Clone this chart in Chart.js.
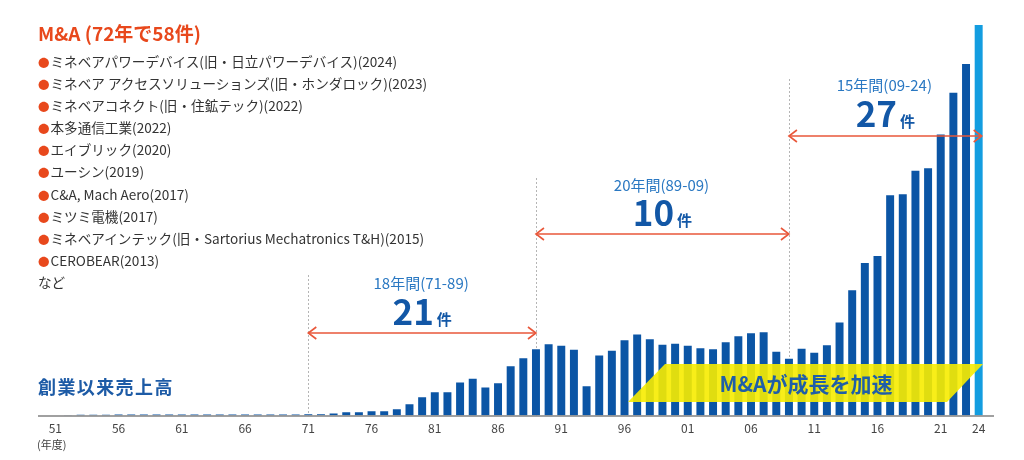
<!DOCTYPE html>
<html lang="ja">
<head>
<meta charset="utf-8">
<script src="https://cdn.jsdelivr.net/npm/chart.js@4.4.1/dist/chart.umd.min.js"></script>
<style>
  body { margin: 0; background: #fff; }
  #wrap { position: relative; width: 1024px; height: 460px; font-family: "Noto Sans CJK JP", "Noto Sans", sans-serif; }
  #sales { position: absolute; left: 0; top: 0; }
  .ma { position: absolute; left: 38px; top: 22px; color: #e8481c; font-weight: bold; font-size: 19px; line-height: 22px; }
  #deals { position: absolute; left: 38px; top: 50px; margin: 0; padding: 0; list-style: none; font-size: 13.6px; color: #333; }
  #deals li { height: 22.1px; line-height: 22px; white-space: nowrap; }
  #deals li.dot::before { content: '\25CF'; color: #e8481c; font-size: 11.5px; margin-right: 1px; }
  .since { position: absolute; left: 38px; top: 373px; color: #1d5ba6; font-weight: bold; font-size: 18px; letter-spacing: 1.4px; line-height: 26px; }
  .unit { position: absolute; left: 37px; top: 436px; color: #444; font-size: 11px; line-height: 16px; }
</style>
</head>
<body>
<div id="wrap">
  <canvas id="sales" width="1024" height="460"></canvas>
  <div class="ma">M&amp;A (72年で58件)</div>
  <ul id="deals"></ul>
  <div class="since">創業以来売上高</div>
  <div class="unit">(年度)</div>
</div>
<script>
// fiscal years
const years = ['1951','1952','1953','1954','1955','1956','1957','1958','1959','1960',
  '1961','1962','1963','1964','1965','1966','1967','1968','1969','1970',
  '1971','1972','1973','1974','1975','1976','1977','1978','1979','1980',
  '1981','1982','1983','1984','1985','1986','1987','1988','1989','1990',
  '1991','1992','1993','1994','1995','1996','1997','1998','1999','2000',
  '2001','2002','2003','2004','2005','2006','2007','2008','2009','2010',
  '2011','2012','2013','2014','2015','2016','2017','2018','2019','2020',
  '2021','2022','2023','2024']

// net sales (approx., 100M yen)
const sales = [5, 10, 35, 36, 37, 38, 38, 39, 40, 40,
  41, 41, 42, 42, 43, 44, 44, 45, 45, 46,
  48, 52, 78, 130, 130, 168, 168, 246, 441, 714,
  909, 909, 1287, 1431, 1092, 1260, 1923, 2235, 2586, 2781,
  2718, 2562, 1143, 2340, 2523, 2937, 3159, 2976, 2757, 2796,
  2718, 2625, 2586, 2859, 3093, 3210, 3240, 2484, 2211, 2601,
  2445, 2742, 3627, 4875, 5940, 6213, 8580, 8619, 9528, 9633,
  10947, 12570, 13689, 15210]

const tickYears = ['51','56','61','66','71','76','81','86','91','96','01','06','11','16','21','24']

const deals = [
  'ミネベアパワーデバイス(旧・日立パワーデバイス)(2024)',
  'ミネベア アクセスソリューションズ(旧・ホンダロック)(2023)',
  'ミネベアコネクト(旧・住鉱テック)(2022)',
  '本多通信工業(2022)',
  'エイブリック(2020)',
  'ユーシン(2019)',
  'C&A, Mach Aero(2017)',
  'ミツミ電機(2017)',
  'ミネベアインテック(旧・Sartorius Mechatronics T&H)(2015)',
  'CEROBEAR(2013)'
]

const spanFrom = ['1971', '1989', '2009']
const spanTo = ['1989', '2009', '2024']
const spanTitle = ['18年間(71-89)', '20年間(89-09)', '15年間(09-24)']
const spanCount = ['21', '10', '27']

const bannerText = 'M&Aが成長を加速'

const list = document.querySelector('#deals')
deals.forEach(d => {
    const li = document.createElement('li')
    li.className = 'dot'
    li.textContent = d
    list.appendChild(li)
})
const more = document.createElement('li')
more.textContent = 'など'
list.appendChild(more)

const FONT = '"Noto Sans CJK JP", "Noto Sans", sans-serif'
const ORANGE = '#e9573a'

// layout of the three span annotations (pixel rows)
const spanRows = [
    { guide: 275, title: 289, count: 325, arrow: 333 },
    { guide: 178, title: 191, count: 226, arrow: 234 },
    { guide: 79, title: 91, count: 127, arrow: 136 }
]

function arrowHead(ctx, x, y, dir) {
    ctx.beginPath()
    ctx.moveTo(x - dir * 8, y - 6)
    ctx.lineTo(x, y)
    ctx.lineTo(x - dir * 8, y + 6)
    ctx.stroke()
}

const decor = {
    id: 'decor',
    beforeDatasetsDraw(chart) {
        const { ctx, scales: { x } } = chart
        const base = chart.chartArea.bottom
        ctx.save()
        ctx.strokeStyle = '#b5b5b5'
        ctx.lineWidth = 1
        ctx.setLineDash([2, 2])
        spanFrom.forEach((yr, i) => {
            const px = Math.round(x.getPixelForValue(years.indexOf(yr))) + 0.5
            ctx.beginPath()
            ctx.moveTo(px, spanRows[i].guide)
            ctx.lineTo(px, base)
            ctx.stroke()
        })
        ctx.restore()
    },
    afterDatasetsDraw(chart) {
        const { ctx, scales: { x } } = chart
        const base = chart.chartArea.bottom
        ctx.save()

        // baseline
        ctx.strokeStyle = '#808080'
        ctx.lineWidth = 1.5
        ctx.beginPath()
        ctx.moveTo(38, base + 0.5)
        ctx.lineTo(994, base + 0.5)
        ctx.stroke()

        // arrows + labels
        spanFrom.forEach((yr, i) => {
            const row = spanRows[i]
            const x0 = x.getPixelForValue(years.indexOf(yr))
            let x1 = x.getPixelForValue(years.indexOf(spanTo[i]))
            if (i === 2) x1 += 3
            ctx.strokeStyle = ORANGE
            ctx.lineWidth = 1.6
            ctx.beginPath()
            ctx.moveTo(x0, row.arrow)
            ctx.lineTo(x1, row.arrow)
            ctx.stroke()
            arrowHead(ctx, x0, row.arrow, -1)
            arrowHead(ctx, x1, row.arrow, 1)

            const mid = (x0 + x1) / 2
            ctx.fillStyle = '#2a78c2'
            ctx.font = '15px ' + FONT
            ctx.textAlign = 'center'
            ctx.textBaseline = 'alphabetic'
            ctx.fillText(spanTitle[i], mid - 1, row.title)

            ctx.fillStyle = '#1257a6'
            ctx.font = 'bold 35px ' + FONT
            const wn = ctx.measureText(spanCount[i]).width
            ctx.font = 'bold 15px ' + FONT
            const wk = ctx.measureText('件').width
            const left = mid - (wn + 3 + wk) / 2
            ctx.textAlign = 'left'
            ctx.font = 'bold 35px ' + FONT
            ctx.fillText(spanCount[i], left, row.count)
            ctx.font = 'bold 15px ' + FONT
            ctx.fillText('件', left + wn + 3, row.count)
        })

        // yellow banner
        ctx.fillStyle = 'rgba(247, 236, 0, 0.9)'
        ctx.beginPath()
        ctx.moveTo(665, 364)
        ctx.lineTo(983, 364)
        ctx.lineTo(947, 402)
        ctx.lineTo(628, 402)
        ctx.closePath()
        ctx.fill()
        ctx.fillStyle = '#1f5ea8'
        ctx.font = 'bold 21px ' + FONT
        ctx.textAlign = 'center'
        ctx.textBaseline = 'middle'
        ctx.fillText(bannerText, 806, 384)

        ctx.restore()
    }
}

new Chart(document.querySelector('#sales').getContext('2d'), {
    type: 'bar',
    data: {
        labels: years,
        datasets: [{
            label: '売上高',
            data: sales,
            backgroundColor: years.map((y, i) => i === years.length - 1 ? '#139de0' : '#0b55a5'),
            barPercentage: 0.63,
            categoryPercentage: 1
        }]
    },
    options: {
        responsive: false,
        animation: false,
        layout: { padding: { left: 49, right: 39, top: 20, bottom: 18 } },
        plugins: { legend: { display: false }, tooltip: { enabled: false } },
        scales: {
            y: { display: false, min: 0, max: 15400 },
            x: {
                grid: { display: false, drawTicks: false },
                border: { display: false },
                ticks: {
                    autoSkip: false,
                    maxRotation: 0,
                    padding: 6,
                    color: '#444',
                    font: { size: 12, family: FONT },
                    callback: (v, i) => {
                        const s = years[i].slice(2)
                        return tickYears.includes(s) ? s : ''
                    }
                }
            }
        }
    },
    plugins: [decor]
})
</script>
</body>
</html>
